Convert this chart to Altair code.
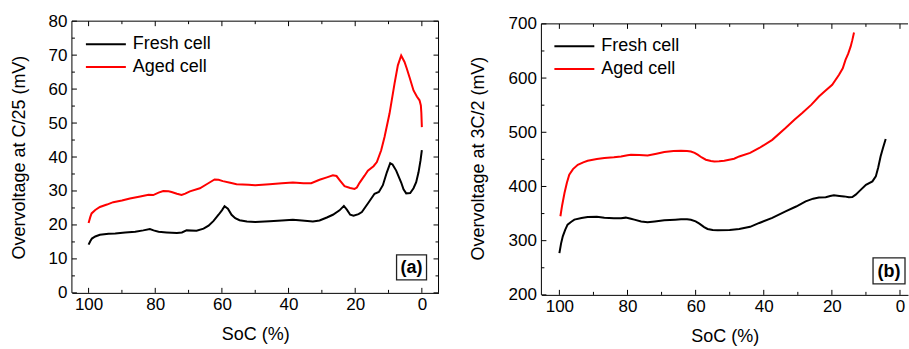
import altair as alt
import pandas as pd

# ---------------- data ----------------
series_names = ["Fresh cell", "Aged cell"]
series_colors = ["#000000", "#ff0000"]

# Panel (a): overvoltage at C/25 (mV) vs SoC (%)
soc_a_fresh = [100, 99.5, 99, 98, 96.6, 94, 92, 89, 86, 83.6, 81.6, 80.5, 79, 76.6, 73.5, 72, 70.6, 67.6,
               65.5, 64, 62.5, 61, 60, 59.2, 58.2, 57.1, 56, 54.7, 52.5, 50, 45.7, 42, 38.7, 36, 32.7, 30.7,
               28.5, 26.7, 24.7, 23.4, 22.5, 21.5, 20.5, 19, 18, 16.2, 14.2, 12.9, 11.7, 10.5, 9.5, 8.8,
               7.7, 6.2, 5.5, 4.7, 3.5, 2.5, 1.7, 1, 0.4, 0]
v_a_fresh = [14.2, 15.2, 16.0, 16.6, 17.1, 17.4, 17.5, 17.8, 18.0, 18.4, 18.8, 18.4, 18.0, 17.8, 17.6, 17.8,
             18.4, 18.3, 18.9, 19.8, 21.2, 23.0, 24.3, 25.5, 24.8, 23.0, 22.0, 21.4, 21.0, 20.9, 21.1, 21.3,
             21.5, 21.3, 21.0, 21.3, 22.2, 23.0, 24.3, 25.6, 24.5, 23.0, 22.7, 23.2, 23.8, 26.3, 29.2, 29.7,
             31.7, 35.5, 38.2, 37.8, 36.0, 32.5, 30.5, 29.3, 29.4, 30.8, 32.6, 35.5, 39.0, 42.0]

soc_a_aged = [100, 99.5, 99.1, 98, 96.6, 94.5, 92.6, 90, 87.6, 84.5, 82, 80.6, 79, 77.6, 76, 75.1, 73.5,
              72.1, 71, 69.6, 66.6, 64.2, 62.2, 61, 59.7, 57.5, 55.6, 52, 50, 45.7, 42, 38.7, 35.5, 33.2,
              30.7, 28.5, 26.7, 25.6, 24.5, 23.2, 21.5, 20.2, 19.5, 18.7, 17.2, 16.2, 14.5, 13.5, 12.2,
              11.2, 9.7, 8.2, 7.2, 6.2, 5.2, 4.5, 3.7, 2.5, 1.5, 0.7, 0.3, 0.15, 0]
v_a_aged = [20.6, 22.3, 23.4, 24.4, 25.3, 26.0, 26.7, 27.2, 27.8, 28.4, 28.9, 28.8, 29.5, 30.0, 29.9, 29.7,
            29.2, 28.8, 29.2, 29.9, 30.8, 32.2, 33.4, 33.3, 32.9, 32.4, 32.0, 31.8, 31.7, 32.0, 32.3, 32.5,
            32.3, 32.3, 33.3, 34.0, 34.6, 34.4, 33.0, 31.4, 30.9, 30.6, 31.0, 32.4, 34.5, 36.0, 37.3, 38.5,
            42.0, 45.9, 52.8, 61.6, 67.0, 69.9, 68.0, 66.0, 63.5, 59.6, 57.8, 56.7, 55.2, 53.0, 48.8]

# Panel (b): overvoltage at 3C/2 (mV) vs SoC (%)
soc_b_fresh = [100, 99.5, 99, 98.3, 97.6, 96.5, 95.6, 93.5, 91.7, 89, 86.8, 84, 81.9, 80.5, 79, 78, 76,
               74.1, 72, 69.2, 66, 64.3, 62.5, 61.4, 60, 58.9, 57.5, 56.5, 55, 53.5, 50, 47.2, 44, 41.3,
               37.5, 33.6, 30.5, 27.7, 25.5, 23.8, 21.8, 20.5, 19.4, 17.8, 16.4, 15, 14, 13, 12, 10, 8.1,
               7.1, 6.4, 5.7, 5, 4.2]
v_b_fresh = [277, 295, 308, 320, 329.6, 335, 338.8, 342, 343.8, 344, 342.5, 341.5, 341.5, 342.5, 340.5,
             338.8, 335.5, 333.8, 335.5, 337.5, 338.8, 339.5, 339.5, 338.5, 335.5, 331.4, 325, 321.6,
             319.5, 319, 319.5, 321.6, 325.5, 332.7, 342, 354, 363, 372.5, 377.5, 379.5, 380, 382.5,
             383.6, 382.5, 381.7, 380.2, 380.6, 385, 391, 403, 409.4, 418.6, 435, 455.4, 471, 487.5]

soc_b_aged = [99.7, 99.2, 98.5, 97.8, 97.1, 96, 94.6, 93, 91.7, 89, 86.8, 84, 81.9, 80, 79, 76.5, 74.1,
              71.5, 69.2, 66.5, 64.3, 62.5, 61.4, 60.3, 59.4, 58.2, 57, 55.5, 54.5, 53.1, 51.6, 48.7,
              47.2, 44, 41.3, 37.5, 33.6, 31, 28.7, 26, 23.8, 22, 19.9, 17.9, 16.8, 16, 15.2, 14.5, 14, 13.5]
v_b_aged = [345, 365, 388, 407, 421.7, 432, 440, 444.5, 447.5, 450.5, 452.5, 453.8, 455.4, 457.5, 458.6,
            458, 457.3, 460.5, 463.5, 465.5, 466, 465.5, 464.6, 462, 458.6, 453.5, 449.4, 447, 446.2,
            446.5, 447.5, 451.2, 455.4, 462, 471, 486, 507.8, 523, 535.4, 551, 566, 576, 587.6, 606,
            618, 633.6, 645, 658, 670, 684]

x_major = [100, 80, 60, 40, 20, 0]
x_minor = [90, 70, 50, 30, 10]
ya_major = [0, 10, 20, 30, 40, 50, 60, 70, 80]
ya_minor = [5, 15, 25, 35, 45, 55, 65, 75]
yb_major = [200, 300, 400, 500, 600, 700]
yb_minor = [250, 350, 450, 550, 650]

FONT = "Liberation Sans"


def make_df(soc_f, v_f, soc_g, v_g):
    return pd.concat([
        pd.DataFrame({"soc": soc_f, "v": v_f, "series": series_names[0]}),
        pd.DataFrame({"soc": soc_g, "v": v_g, "series": series_names[1]}),
    ], ignore_index=True)


def panel(df, xdom, ydom, ytop, ybot, W, H, ytitle, ymaj, ymin, tag, legx, legy, right_frame, ytp):
    xs = alt.Scale(domain=xdom, nice=False, zero=False)
    ys = alt.Scale(domain=ydom, nice=False, zero=False)
    xaxis = alt.Axis(values=x_major, title="SoC (%)", ticks=False, domain=True, domainColor="black",
                     domainWidth=1, labelPadding=4, titlePadding=13, grid=False, format="d",
                     labelOverlap=False, labelFontSize=17, titleFontSize=18, titleFontWeight="normal",
                     labelFont=FONT, titleFont=FONT, labelColor="black", titleColor="black")
    yaxis = alt.Axis(values=ymaj, title=ytitle, ticks=False, domain=False, labelPadding=5,
                     titlePadding=ytp, grid=False, format="d",
                     labelOverlap=False, labelFontSize=17, titleFontSize=18, titleFontWeight="normal",
                     labelFont=FONT, titleFont=FONT, labelColor="black", titleColor="black")
    X = alt.X("soc:Q", scale=xs, axis=xaxis)
    Y = alt.Y("v:Q", scale=ys, axis=yaxis)

    def YD(val):
        return alt.YDatum(val, scale=ys, axis=yaxis)

    def Y2D(val):
        return alt.Y2Datum(val)

    color = alt.Color(
        "series:N",
        scale=alt.Scale(domain=series_names, range=series_colors),
        legend=alt.Legend(
            title=None, orient="none", legendX=legx, legendY=legy,
            symbolType="M-5,0H5", symbolSize=64, symbolStrokeWidth=2,
            labelFontSize=18, labelOffset=18, rowPadding=5, padding=0,
            labelFont=FONT, labelColor="black",
        ),
    )

    lines = alt.Chart(df).mark_line(strokeWidth=2).encode(x=X, y=Y, color=color)

    one = pd.DataFrame({"k": [0]})
    xmaj_df = pd.DataFrame({"soc": x_major})
    xmin_df = pd.DataFrame({"soc": x_minor})
    ymaj_df = pd.DataFrame({"v": ymaj})
    ymin_df = pd.DataFrame({"v": ymin})
    layers = [lines]
    # inward ticks
    for d, ln in ((xmaj_df, 5), (xmin_df, 3)):
        layers.append(alt.Chart(d).mark_rule(color="black", strokeWidth=1, y2Offset=-ln)
                      .encode(x=X, y=YD(ybot), y2=Y2D(ybot)))
        layers.append(alt.Chart(d).mark_rule(color="black", strokeWidth=1, y2Offset=ln)
                      .encode(x=X, y=YD(ytop), y2=Y2D(ytop)))
    for d, ln in ((ymaj_df, 5), (ymin_df, 3)):
        layers.append(alt.Chart(d).mark_rule(color="black", strokeWidth=1)
                      .encode(y=Y, x=alt.value(0), x2=alt.value(ln)))
        if right_frame:
            layers.append(alt.Chart(d).mark_rule(color="black", strokeWidth=1)
                          .encode(y=Y, x=alt.value(W - ln), x2=alt.value(W)))
    # frame (top, left, optional right); bottom is the x-axis domain line
    layers.append(alt.Chart(one).mark_rule(color="black", strokeWidth=1)
                  .encode(x=alt.value(0), x2=alt.value(W), y=YD(ytop)))
    layers.append(alt.Chart(one).mark_rule(color="black", strokeWidth=1)
                  .encode(x=alt.value(0), y=YD(ybot), y2=Y2D(ytop)))
    if right_frame:
        layers.append(alt.Chart(one).mark_rule(color="black", strokeWidth=1)
                      .encode(x=alt.value(W), y=YD(ybot), y2=Y2D(ytop)))
    # panel tag box
    tag_df = pd.DataFrame({"tag": [tag["text"]]})
    bx0, bx1, by0, by1 = tag["box"]
    layers.append(alt.Chart(tag_df).mark_rect(fill="white", stroke="#222222", strokeWidth=1.3)
                  .encode(x=alt.value(bx0), x2=alt.value(bx1), y=alt.value(by0), y2=alt.value(by1)))
    layers.append(alt.Chart(tag_df).mark_text(font=FONT, fontSize=18, fontWeight="bold", color="black",
                                              baseline="middle", align="center")
                  .encode(text="tag:N", x=alt.value((bx0 + bx1) / 2),
                          y=alt.value((by0 + by1) / 2 + 1)))
    return alt.layer(*layers).properties(width=W, height=H)


df_a = make_df(soc_a_fresh, v_a_fresh, soc_a_aged, v_a_aged)
df_b = make_df(soc_b_fresh, v_b_fresh, soc_b_aged, v_b_aged)

chart_a = panel(df_a, [105, -5], [0, 80], 80, 0, 367, 272, "Overvoltage at C/25 (mV)",
                ya_major, ya_minor, {"text": "(a)", "box": [325, 355, 234, 259]}, 25, 14, True, 20)
chart_b = panel(df_b, [105.28, -2.35], [200, 705], 700, 200, 367, 274, "Overvoltage at 3C/2 (mV)",
                yb_major, yb_minor, {"text": "(b)", "box": [332, 364, 237, 263]}, 24, 16, False, 21)

chart = (
    alt.hconcat(chart_a, chart_b, spacing=103, bounds="flush")
    .resolve_scale(color="independent")
    .properties(padding={"left": 10, "top": 12, "right": 0, "bottom": 0}, background="white")
    .configure_view(stroke=None)
)

chart.save("out.html", embed_options={"renderer": "svg", "actions": False})
